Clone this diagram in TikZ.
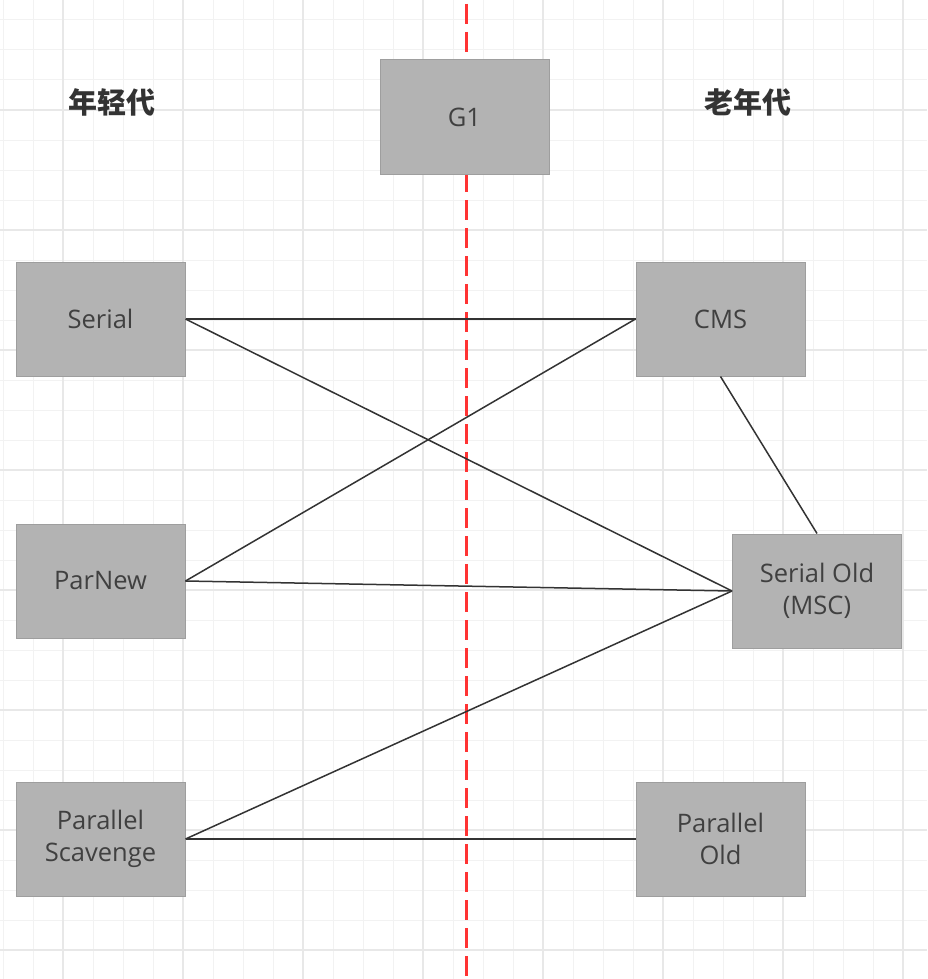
\documentclass[tikz,border=0pt]{standalone}
\usepackage{fontspec}
\setmainfont{Open Sans}
\newfontfamily\cjk{Noto Sans CJK SC}
\definecolor{gridminor}{HTML}{F2F2F2}
\definecolor{gridmajor}{HTML}{E8E8E8}
\definecolor{boxfill}{HTML}{B3B3B3}
\definecolor{boxdraw}{HTML}{9E9E9E}
\definecolor{boxtext}{HTML}{404040}
\definecolor{linecol}{HTML}{333333}
\definecolor{redline}{HTML}{FF3333}
\tikzset{
  gcbox/.style={rectangle, draw=boxdraw, fill=boxfill, line width=1pt,
    minimum width=169pt, minimum height=114pt, inner sep=0pt,
    text=boxtext, align=center, font=\fontsize{25.5}{32}\selectfont},
  gclabel/.style={text=black!80, font=\cjk\bfseries\fontsize{29}{32}\selectfont},
  link/.style={draw=linecol, line width=1.5pt}
}
\begin{document}
\begin{tikzpicture}[x=1pt,y=-1pt]
\useasboundingbox (0,0) rectangle (927,979);
\fill[white] (0,0) rectangle (927,979);
% grid
\foreach \i in {0,...,30} {
  \draw[gridminor, line width=1pt] ({3+30*\i},0) -- ({3+30*\i},979);
}
\foreach \j in {0,...,32} {
  \draw[gridminor, line width=1pt] (0,{20+30*\j}) -- (927,{20+30*\j});
}
\foreach \i in {0,...,7} {
  \draw[gridmajor, line width=1.5pt] ({63+120*\i},0) -- ({63+120*\i},979);
}
\foreach \j in {0,...,7} {
  \draw[gridmajor, line width=1.5pt] (0,{110+120*\j}) -- (927,{110+120*\j});
}
% red divider
\draw[redline, line width=3pt, dash pattern=on 20pt off 8pt] (466,4) -- (466,979);
% labels
\node[gclabel] (young) at (112,102) {年轻代};
\node[gclabel] (old) at (748,102) {老年代};
% boxes
\node[gcbox] (g1) at (464.5,117) {G1};
\node[gcbox] (serial) at (100.5,319) {Serial};
\node[gcbox] (cms) at (720.5,319) {CMS};
\node[gcbox] (parnew) at (100.5,581) {ParNew};
\node[gcbox] (serialold) at (817,591) {Serial Old\\(MSC)};
\node[gcbox] (ps) at (100.5,839) {Parallel\\Scavenge};
\node[gcbox] (po) at (720.5,839) {Parallel\\Old};
% connectors
\draw[link] (serial.east) -- (cms.west);
\draw[link] (serial.east) -- (serialold.west);
\draw[link] (parnew.east) -- (cms.west);
\draw[link] (parnew.east) -- (serialold.west);
\draw[link] (ps.east) -- (serialold.west);
\draw[link] (ps.east) -- (po.west);
\draw[link] (cms.south) -- (serialold.north);
\end{tikzpicture}
\end{document}
